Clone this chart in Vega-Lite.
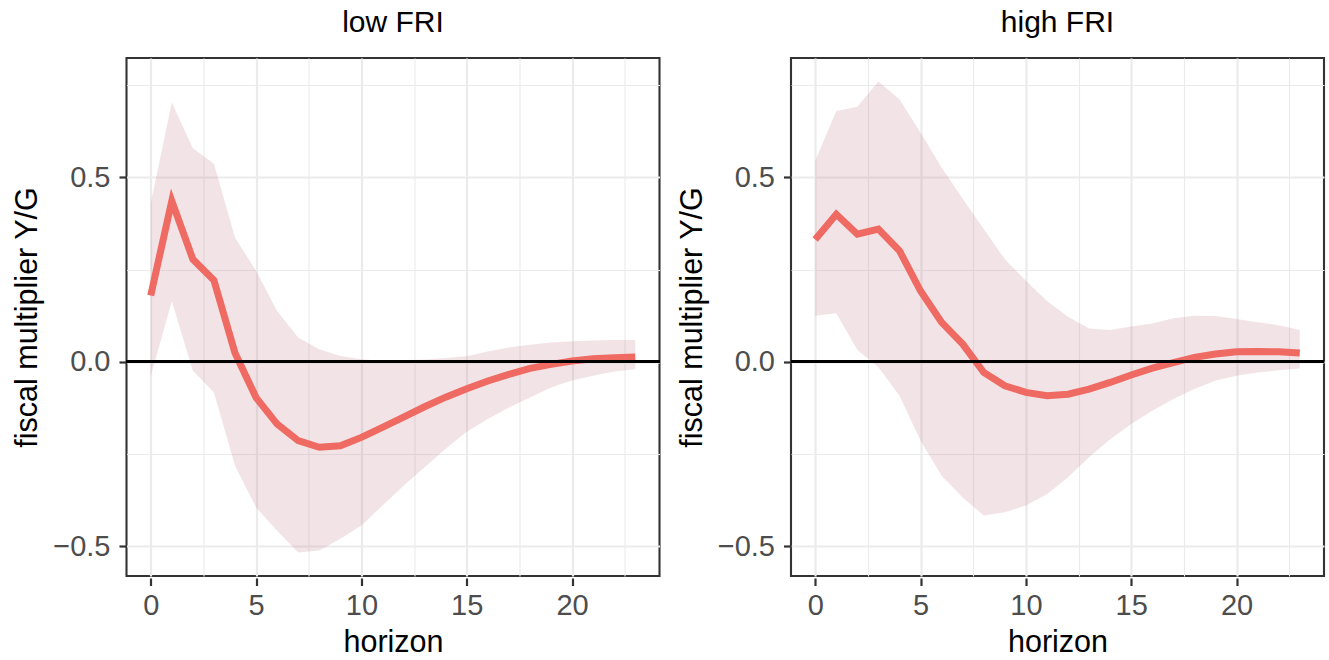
{
  "$schema": "https://vega.github.io/schema/vega-lite/v6.json",
  "background": "white",
  "padding": {"left": 11.5, "top": 8, "right": 4, "bottom": 4},
  "config": {
    "font": "Liberation Sans",
    "view": {"stroke": "#333333", "strokeWidth": 2.1}
  },
  "data": {
    "values": [
      {"regime": "low FRI", "h": 0, "est": 0.18, "lo": -0.04, "hi": 0.43},
      {"regime": "low FRI", "h": 1, "est": 0.436, "lo": 0.165, "hi": 0.703},
      {"regime": "low FRI", "h": 2, "est": 0.278, "lo": -0.024, "hi": 0.579},
      {"regime": "low FRI", "h": 3, "est": 0.221, "lo": -0.083, "hi": 0.537},
      {"regime": "low FRI", "h": 4, "est": 0.024, "lo": -0.282, "hi": 0.337},
      {"regime": "low FRI", "h": 5, "est": -0.097, "lo": -0.395, "hi": 0.247},
      {"regime": "low FRI", "h": 6, "est": -0.169, "lo": -0.458, "hi": 0.138},
      {"regime": "low FRI", "h": 7, "est": -0.214, "lo": -0.517, "hi": 0.066},
      {"regime": "low FRI", "h": 8, "est": -0.232, "lo": -0.512, "hi": 0.034},
      {"regime": "low FRI", "h": 9, "est": -0.228, "lo": -0.48, "hi": 0.016},
      {"regime": "low FRI", "h": 10, "est": -0.205, "lo": -0.444, "hi": 0.007},
      {"regime": "low FRI", "h": 11, "est": -0.178, "lo": -0.39, "hi": 0.003},
      {"regime": "low FRI", "h": 12, "est": -0.15, "lo": -0.336, "hi": 0.004},
      {"regime": "low FRI", "h": 13, "est": -0.122, "lo": -0.286, "hi": 0.006},
      {"regime": "low FRI", "h": 14, "est": -0.096, "lo": -0.236, "hi": 0.01},
      {"regime": "low FRI", "h": 15, "est": -0.073, "lo": -0.19, "hi": 0.015},
      {"regime": "low FRI", "h": 16, "est": -0.052, "lo": -0.155, "hi": 0.028},
      {"regime": "low FRI", "h": 17, "est": -0.034, "lo": -0.124, "hi": 0.039},
      {"regime": "low FRI", "h": 18, "est": -0.018, "lo": -0.097, "hi": 0.046},
      {"regime": "low FRI", "h": 19, "est": -0.007, "lo": -0.07, "hi": 0.052},
      {"regime": "low FRI", "h": 20, "est": 0.002, "lo": -0.051, "hi": 0.056},
      {"regime": "low FRI", "h": 21, "est": 0.008, "lo": -0.038, "hi": 0.058},
      {"regime": "low FRI", "h": 22, "est": 0.011, "lo": -0.026, "hi": 0.059},
      {"regime": "low FRI", "h": 23, "est": 0.013, "lo": -0.02, "hi": 0.059},
      {"regime": "high FRI", "h": 0, "est": 0.332, "lo": 0.125, "hi": 0.545},
      {"regime": "high FRI", "h": 1, "est": 0.4, "lo": 0.132, "hi": 0.68},
      {"regime": "high FRI", "h": 2, "est": 0.346, "lo": 0.032, "hi": 0.692},
      {"regime": "high FRI", "h": 3, "est": 0.36, "lo": -0.015, "hi": 0.76},
      {"regime": "high FRI", "h": 4, "est": 0.301, "lo": -0.092, "hi": 0.712},
      {"regime": "high FRI", "h": 5, "est": 0.192, "lo": -0.214, "hi": 0.621},
      {"regime": "high FRI", "h": 6, "est": 0.107, "lo": -0.309, "hi": 0.527},
      {"regime": "high FRI", "h": 7, "est": 0.048, "lo": -0.368, "hi": 0.442},
      {"regime": "high FRI", "h": 8, "est": -0.029, "lo": -0.417, "hi": 0.36},
      {"regime": "high FRI", "h": 9, "est": -0.065, "lo": -0.408, "hi": 0.278},
      {"regime": "high FRI", "h": 10, "est": -0.083, "lo": -0.39, "hi": 0.22},
      {"regime": "high FRI", "h": 11, "est": -0.092, "lo": -0.359, "hi": 0.165},
      {"regime": "high FRI", "h": 12, "est": -0.088, "lo": -0.313, "hi": 0.122},
      {"regime": "high FRI", "h": 13, "est": -0.074, "lo": -0.259, "hi": 0.09},
      {"regime": "high FRI", "h": 14, "est": -0.056, "lo": -0.21, "hi": 0.086},
      {"regime": "high FRI", "h": 15, "est": -0.036, "lo": -0.169, "hi": 0.096},
      {"regime": "high FRI", "h": 16, "est": -0.017, "lo": -0.133, "hi": 0.104},
      {"regime": "high FRI", "h": 17, "est": -0.002, "lo": -0.101, "hi": 0.118},
      {"regime": "high FRI", "h": 18, "est": 0.012, "lo": -0.074, "hi": 0.125},
      {"regime": "high FRI", "h": 19, "est": 0.021, "lo": -0.051, "hi": 0.124},
      {"regime": "high FRI", "h": 20, "est": 0.027, "lo": -0.038, "hi": 0.116},
      {"regime": "high FRI", "h": 21, "est": 0.028, "lo": -0.029, "hi": 0.107},
      {"regime": "high FRI", "h": 22, "est": 0.027, "lo": -0.023, "hi": 0.099},
      {"regime": "high FRI", "h": 23, "est": 0.024, "lo": -0.018, "hi": 0.086}
    ]
  },
  "facet": {
    "column": {
      "field": "regime",
      "type": "nominal",
      "sort": ["low FRI", "high FRI"],
      "header": {
        "title": null,
        "labelFontSize": 30,
        "labelColor": "#000000",
        "labelFont": "Liberation Sans",
        "labelPadding": 18
      }
    }
  },
  "spacing": 13.5,
  "resolve": {"axis": {"y": "independent"}},
  "spec": {
    "width": 533,
    "height": 518,
    "resolve": {"axis": {"x": "independent", "y": "independent"}},
    "layer": [
      {
        "mark": {"type": "point", "opacity": 0},
        "encoding": {
          "x": {
            "field": "h", "type": "quantitative",
            "scale": {"domain": [-1.15, 24.15], "nice": false, "zero": false},
            "axis": {"orient": "bottom", "values": [2.5, 7.5, 12.5, 17.5, 22.5], "grid": true, "gridColor": "#EBEBEB", "gridWidth": 1.1, "labels": false, "ticks": false, "domain": false, "title": null}
          },
          "y": {
            "field": "est", "type": "quantitative",
            "scale": {"domain": [-0.581, 0.824], "nice": false, "zero": false},
            "axis": {"orient": "left", "values": [-0.25, 0.25, 0.75], "grid": true, "gridColor": "#EBEBEB", "gridWidth": 1.1, "labels": false, "ticks": false, "domain": false, "title": null}
          }
        }
      },
      {
        "mark": {"type": "area", "color": "#BE7882", "opacity": 0.2},
        "encoding": {
          "x": {
            "field": "h", "type": "quantitative",
            "axis": {"orient": "bottom", "values": [0, 5, 10, 15, 20], "grid": true, "gridColor": "#EBEBEB", "gridWidth": 2.2, "domain": false, "tickColor": "#333333", "tickWidth": 2.2, "tickSize": 7.5, "labelFontSize": 29, "labelColor": "#4D4D4D", "labelPadding": 6, "title": "horizon", "titleFontSize": 30.5, "titleFontWeight": "normal", "titleColor": "#000000", "titlePadding": 7}
          },
          "y": {
            "field": "lo", "type": "quantitative",
            "axis": {"orient": "left", "values": [-0.5, 0, 0.5], "format": ".1f", "grid": true, "gridColor": "#EBEBEB", "gridWidth": 2.2, "domain": false, "tickColor": "#333333", "tickWidth": 2.2, "tickSize": 7.5, "labelFontSize": 29, "labelColor": "#4D4D4D", "labelPadding": 9, "title": "fiscal multiplier Y/G", "titleFontSize": 30.5, "titleFontWeight": "normal", "titleColor": "#000000", "titlePadding": 10}
          },
          "y2": {"field": "hi"}
        }
      },
      {
        "mark": {"type": "line", "color": "#EE6A62", "strokeWidth": 7},
        "encoding": {
          "x": {"field": "h", "type": "quantitative", "axis": null},
          "y": {"field": "est", "type": "quantitative", "axis": null}
        }
      },
      {
        "mark": {"type": "rule", "color": "#000000", "strokeWidth": 2.5},
        "encoding": {
          "y": {"datum": 0, "type": "quantitative", "axis": null}
        }
      }
    ]
  }
}
